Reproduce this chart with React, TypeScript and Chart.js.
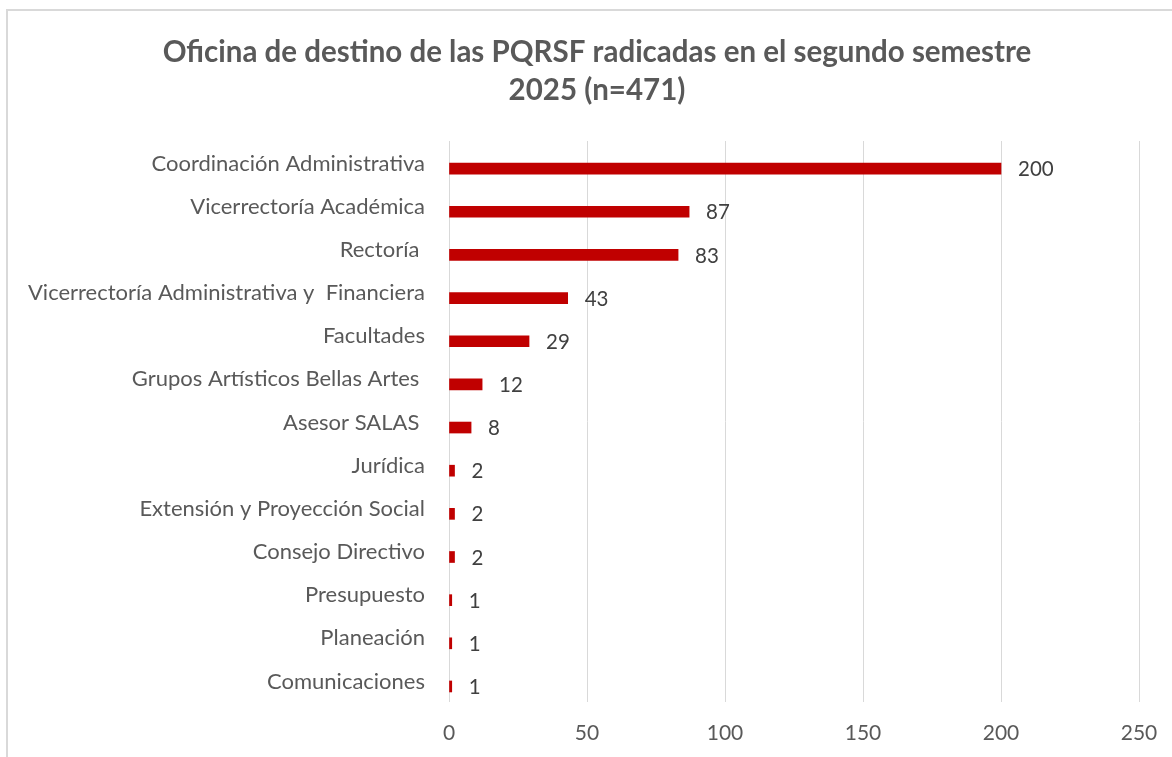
import React, { useEffect, useRef } from "react";
import { Chart, registerables } from "chart.js";

Chart.register(...registerables);

const categories: string[] = [
  "Coordinación Administrativa",
  "Vicerrectoría Académica",
  "Rectoría ",
  "Vicerrectoría Administrativa y  Financiera",
  "Facultades",
  "Grupos Artísticos Bellas Artes ",
  "Asesor SALAS ",
  "Jurídica",
  "Extensión y Proyección Social",
  "Consejo Directivo",
  "Presupuesto",
  "Planeación",
  "Comunicaciones",
];

const values: number[] = [200, 87, 83, 43, 29, 12, 8, 2, 2, 2, 1, 1, 1];

const xTicks: number[] = [0, 50, 100, 150, 200, 250];

const titleLines: string[] = [
  "Oficina de destino de las PQRSF radicadas en el segundo semestre",
  "2025 (n=471)",
];

const FONT = "Lato, 'Open Sans', sans-serif";

const valueLabelPlugin = {
  id: "valueLabels",
  afterDatasetsDraw(chart: any) {
    const { ctx } = chart;
    const meta = chart.getDatasetMeta(0);
    ctx.save();
    ctx.font = `20.5px ${FONT}`;
    ctx.fillStyle = "#404040";
    ctx.textAlign = "left";
    ctx.textBaseline = "middle";
    meta.data.forEach((bar: any, i: number) => {
      ctx.fillText(String(values[i]), bar.x + 17, bar.y + 1);
    });
    ctx.restore();
  },
};

const titlePlugin = {
  id: "centeredTitle",
  afterDraw(chart: any) {
    const { ctx } = chart;
    ctx.save();
    ctx.font = `bold 29.5px ${FONT}`;
    ctx.fillStyle = "#595959";
    ctx.textAlign = "center";
    ctx.textBaseline = "middle";
    titleLines.forEach((line, i) => {
      ctx.fillText(line, 597, 52 + i * 38);
    });
    ctx.restore();
  },
};

export default function App() {
  const ref = useRef<HTMLCanvasElement>(null);

  useEffect(() => {
    if (!ref.current) return;
    const chart = new Chart(ref.current, {
      type: "bar",
      data: {
        labels: categories,
        datasets: [
          {
            data: values.map((v, i) => ({ x: v, y: i })),
            backgroundColor: "#C00000",
            borderWidth: 0,
            barThickness: 11,
          },
        ],
      },
      options: {
        indexAxis: "y",
        responsive: false,
        animation: false,
        layout: { padding: { left: 0, right: 33, top: 141, bottom: 0 } },
        plugins: {
          legend: { display: false },
          tooltip: { enabled: false },
          title: { display: false },
        },
        scales: {
          x: {
            type: "linear",
            min: 0,
            max: 250,
            afterBuildTicks: (scale: any) => {
              scale.ticks = xTicks.map((v) => ({ value: v }));
            },
            afterFit: (scale: any) => {
              scale.height = 55;
              scale.paddingLeft = 0;
              scale.paddingRight = 0;
            },
            grid: { color: "#d9d9d9", lineWidth: 1, drawTicks: false },
            border: { display: false },
            ticks: {
              color: "#595959",
              font: { family: FONT, size: 21 },
              padding: 19,
              maxRotation: 0,
            },
          },
          y: {
            type: "linear",
            offset: false,
            reverse: true,
            min: -0.64,
            max: 12.36,
            afterBuildTicks: (scale: any) => {
              scale.ticks = categories.map((_, i) => ({ value: i }));
            },
            afterFit: (scale: any) => {
              scale.width = 449;
              scale.paddingTop = 0;
              scale.paddingBottom = 0;
            },
            grid: { display: false, drawTicks: false },
            border: { display: false },
            ticks: {
              autoSkip: false,
              color: "#595959",
              font: { family: FONT, size: 22 },
              padding: 24,
              labelOffset: -5,
              callback: (value: any) => categories[value as number] ?? "",
            },
          },
        },
      },
      plugins: [valueLabelPlugin, titlePlugin],
    });
    return () => chart.destroy();
  }, []);

  return (
    <div
      style={{
        position: "fixed",
        left: 0,
        top: 0,
        width: 1172,
        height: 757,
        overflow: "hidden",
        background: "#ffffff",
      }}
    >
      <div
        style={{
          position: "absolute",
          left: 6,
          top: 9,
          width: 2000,
          height: 2000,
          border: "2px solid #d9d9d9",
        }}
      />
      <canvas
        ref={ref}
        width={1172}
        height={757}
        style={{ position: "absolute", left: 0, top: 0, width: 1172, height: 757 }}
      />
    </div>
  );
}
